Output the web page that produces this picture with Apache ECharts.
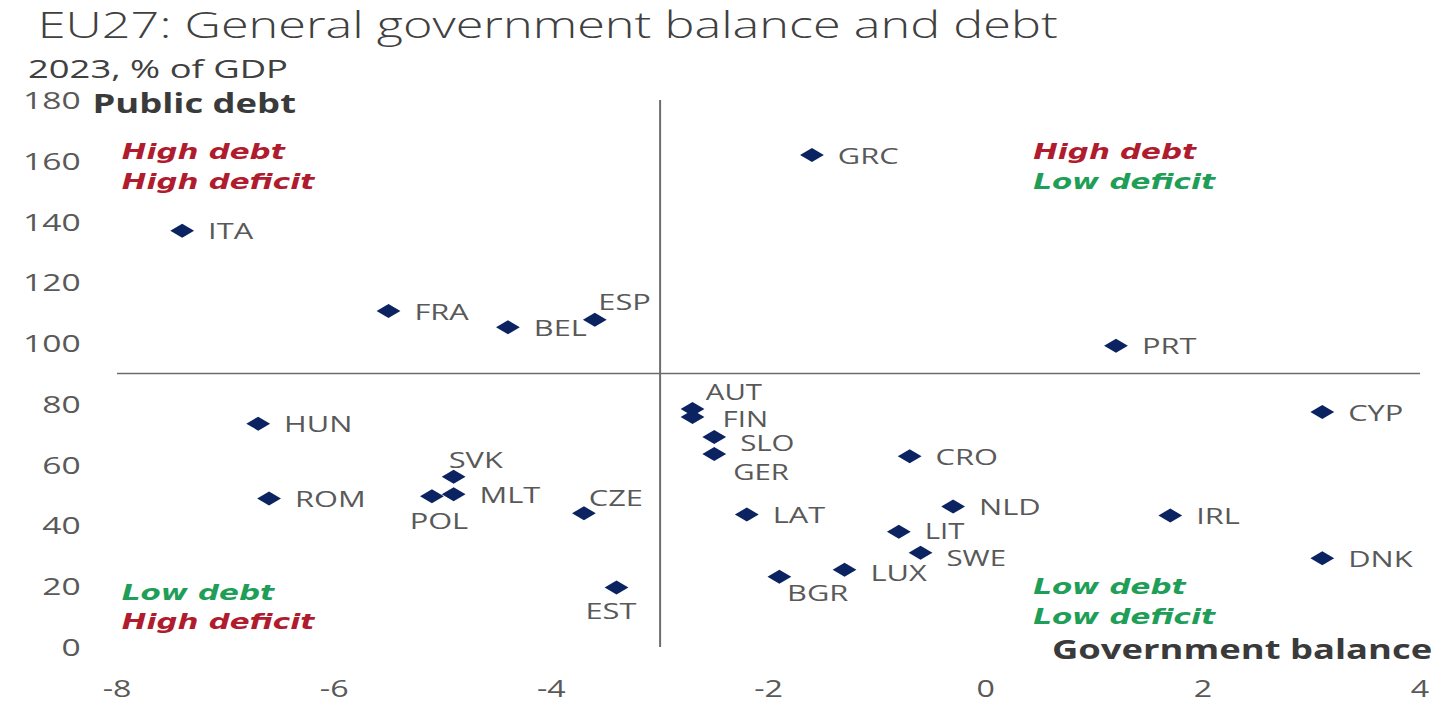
<!DOCTYPE html>
<html>
<head>
<meta charset="UTF-8">
<title>EU27 balance and debt</title>
<script src="https://cdn.jsdelivr.net/npm/echarts@6/dist/echarts.min.js"></script>
<style>
    *{padding:0;margin:0}
    body{background:#fff;overflow:hidden}
    /* the source picture is stretched sideways, so draw narrow and stretch the box */
    #chart{width:1028px;height:705px;transform:scaleX(1.4);transform-origin:0 0}
</style>
</head>
<body>
<div id="chart"></div>
<script>
    // 2023, % of GDP
    var countries = ['ITA','GRC','FRA','BEL','ESP','PRT','AUT','FIN','SLO','GER','CRO','HUN','CYP','ROM',
                     'SVK','MLT','POL','CZE','EST','LAT','NLD','LIT','SWE','LUX','BGR','IRL','DNK'];
    var balance = [-7.4,-1.6,-5.5,-4.4,-3.6,1.2,-2.7,-2.7,-2.5,-2.5,-0.7,-6.7,3.1,-6.6,
                   -4.9,-4.9,-5.1,-3.7,-3.4,-2.2,-0.3,-0.8,-0.6,-1.3,-1.9,1.7,3.1];
    var debt = [137.0,161.9,110.6,105.2,107.7,99.1,78.3,75.7,69.1,63.5,62.8,73.5,77.3,48.9,
                56.0,50.3,49.6,44.0,19.6,43.6,46.2,37.9,31.0,25.4,23.1,43.3,29.2];
    var xTicks = [-8,-6,-4,-2,0,2,4];
    var yTicks = [0,20,40,60,80,100,120,140,160,180];

    var red = '#b01c2e', green = '#1f9e58', grey = '#595959';

    // labels that do not sit to the right of their marker
    var labelTweak = {
        ESP: {offset:[-16,-18]},
        AUT: {offset:[-9,-17], fontSize:21},
        FIN: {offset:[3,2], fontSize:21},
        SLO: {offset:[0,6], fontSize:21},
        GER: {offset:[-5,18], fontSize:21},
        SVK: {offset:[-22,-17]},
        CZE: {offset:[-15,-16]},
        BGR: {offset:[-13,16]},
        LIT: {offset:[0,-1], fontSize:21},
        SWE: {offset:[0,5], fontSize:21},
        LUX: {offset:[0,3]},
        POL: {position:'bottom', distance:7, offset:[5,0]},
        EST: {position:'bottom', distance:6, offset:[-4,0]}
    };

    var points = countries.map(function(c, i){
        var p = {name:c, value:[balance[i], debt[i]]};
        if(labelTweak[c]) p.label = labelTweak[c];
        return p;
    });

    function quadText(x, y, txt, col){
        return {
            type:'text', left:x, top:y,
            style:{text:txt, fill:col, font:'italic bold 21px "DejaVu Sans"', textVerticalAlign:'middle'}
        };
    }

    var option = {
        animation:false,
        title:[
            {text:'EU27: General government balance and debt', left:22, top:1,
             textStyle:{fontFamily:'Open Sans', fontWeight:300, fontSize:36, color:'#404040'}},
            {text:'2023, % of GDP', left:20, top:55, padding:0,
             textStyle:{fontFamily:'Open Sans', fontWeight:'normal', fontSize:26, lineHeight:26, color:'#404040'}}
        ],
        grid:{left:83.6, right:13.7, top:100, bottom:58},
        xAxis:{
            type:'value', min:xTicks[0], max:xTicks[xTicks.length-1], interval:2,
            axisLine:{show:false}, axisTick:{show:false}, splitLine:{show:false},
            axisLabel:{margin:29, fontFamily:'Open Sans', fontSize:23, color:grey}
        },
        yAxis:{
            type:'value', min:yTicks[0], max:yTicks[yTicks.length-1], interval:20,
            axisLine:{show:false}, axisTick:{show:false}, splitLine:{show:false},
            axisLabel:{margin:26, fontFamily:'Open Sans', fontSize:24, color:grey}
        },
        graphic:[
            {type:'text', left:66, top:90,
             style:{text:'Public debt', fill:'#3a3a3a', font:'bold 26px "Open Sans"'}},
            {type:'text', right:5, top:636,
             style:{text:'Government balance', fill:'#3a3a3a', font:'bold 26px "Open Sans"'}},
            quadText(87, 141, 'High debt', red),
            quadText(87, 171, 'High deficit', red),
            quadText(738, 141, 'High debt', red),
            quadText(738, 171, 'Low deficit', green),
            quadText(87, 582, 'Low debt', green),
            quadText(87, 611, 'High deficit', red),
            quadText(738, 576, 'Low debt', green),
            quadText(738, 606, 'Low deficit', green)
        ],
        series:[{
            type:'scatter',
            symbol:'diamond',
            symbolSize:[17,14],
            itemStyle:{color:'#0b2461', opacity:1},
            label:{
                show:true, position:'right', distance:10, lineHeight:20,
                formatter:'{b}', fontFamily:'Open Sans', fontSize:22, color:grey
            },
            data:points,
            markLine:{
                silent:true, symbol:'none', label:{show:false},
                lineStyle:{color:'#6b6b6b', width:1.4, type:'solid'},
                data:[{xAxis:-3},{yAxis:90}]
            }
        }]
    };

    var chart = echarts.init(document.getElementById('chart'), null, {renderer:'svg'});
    chart.setOption(option);
</script>
</body>
</html>
